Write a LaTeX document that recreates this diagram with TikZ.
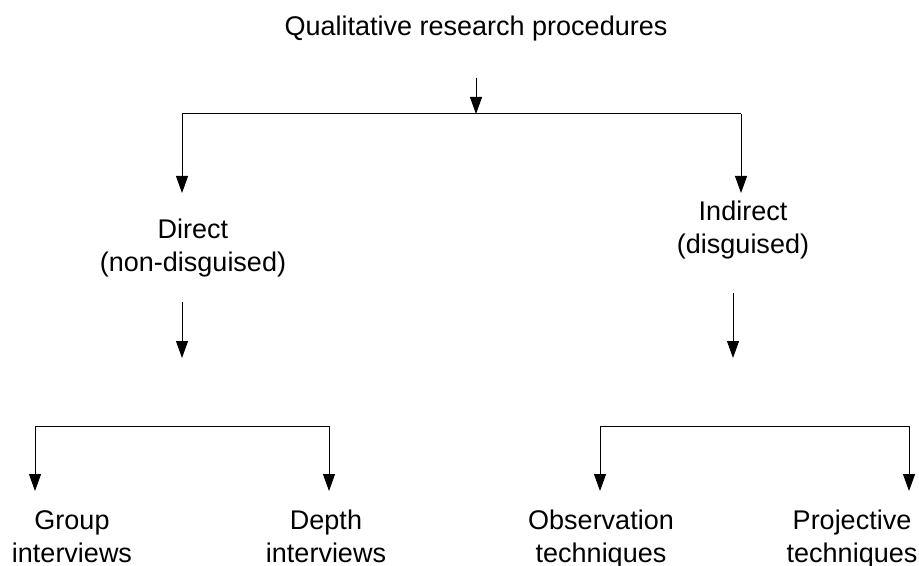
\documentclass[tikz,border=0pt]{standalone}
\usepackage{fontspec}
\setmainfont{Liberation Sans}
\usetikzlibrary{arrows.meta}
\newcommand{\clmtop}{476}
\newcommand{\clmdir}{182}
\newcommand{\clmind}{741}
\newcommand{\clmindb}{733}
\newcommand{\clmgrp}{35}
\newcommand{\clmdpt}{329}
\newcommand{\clmobs}{600}
\newcommand{\clmprj}{909}
\newcommand{\rowsplta}{114}
\newcommand{\rowtipa}{193}
\newcommand{\rowsplb}{426}
\newcommand{\rowtipb}{491}

\begin{document}
\begin{tikzpicture}[x=0.5pt,y=-0.5pt,anchor=base,
    font=\fontsize{13.5}{16.5}\selectfont,
    lbl/.style={align=center,inner sep=0pt},
    arr/.style={-{Triangle[length=8.5pt,width=6pt]},line width=0.5pt},
    lnk/.style={line width=0.5pt}]
    \useasboundingbox (0,0) rectangle (919,566);

    \node[lbl] (qrp) at (\clmtop,36) {Qualitative research procedures};
    \node[lbl] (dir) at (193,271) {Direct\\(non-disguised)};
    \node[lbl] (ind) at (743,254) {Indirect\\(disguised)};
    \node[lbl] (grp) at (72,562) {Group\\interviews};
    \node[lbl] (dpt) at (326,562) {Depth\\interviews};
    \node[lbl] (obs) at (601,562) {Observation\\techniques};
    \node[lbl] (prj) at (852,562) {Projective\\techniques};

    \coordinate (qrpout) at (\clmtop,78);
    \coordinate (splt) at (\clmtop,\rowsplta);
    \coordinate (spltl) at (\clmdir,\rowsplta);
    \coordinate (spltr) at (\clmind,\rowsplta);
    \coordinate (dirin) at (\clmdir,\rowtipa);
    \coordinate (indin) at (\clmind,\rowtipa);
    \coordinate (dirout) at (\clmdir,302);
    \coordinate (dirend) at (\clmdir,358);
    \coordinate (indout) at (\clmindb,293);
    \coordinate (indend) at (\clmindb,358);
    \coordinate (dsplt) at (\clmgrp,\rowsplb);
    \coordinate (dspltr) at (\clmdpt,\rowsplb);
    \coordinate (grpin) at (\clmgrp,\rowtipb);
    \coordinate (dptin) at (\clmdpt,\rowtipb);
    \coordinate (isplt) at (\clmobs,\rowsplb);
    \coordinate (ispltr) at (\clmprj,\rowsplb);
    \coordinate (obsin) at (\clmobs,\rowtipb);
    \coordinate (prjin) at (\clmprj,\rowtipb);

    \draw[arr] (qrpout) -- (splt);
    \draw[lnk] (spltl) -- (spltr);
    \draw[arr] (spltl) -- (dirin);
    \draw[arr] (spltr) -- (indin);

    \draw[arr] (dirout) -- (dirend);
    \draw[arr] (indout) -- (indend);

    \draw[lnk] (dsplt) -- (dspltr);
    \draw[arr] (dsplt) -- (grpin);
    \draw[arr] (dspltr) -- (dptin);

    \draw[lnk] (isplt) -- (ispltr);
    \draw[arr] (isplt) -- (obsin);
    \draw[arr] (ispltr) -- (prjin);
\end{tikzpicture}
\end{document}
